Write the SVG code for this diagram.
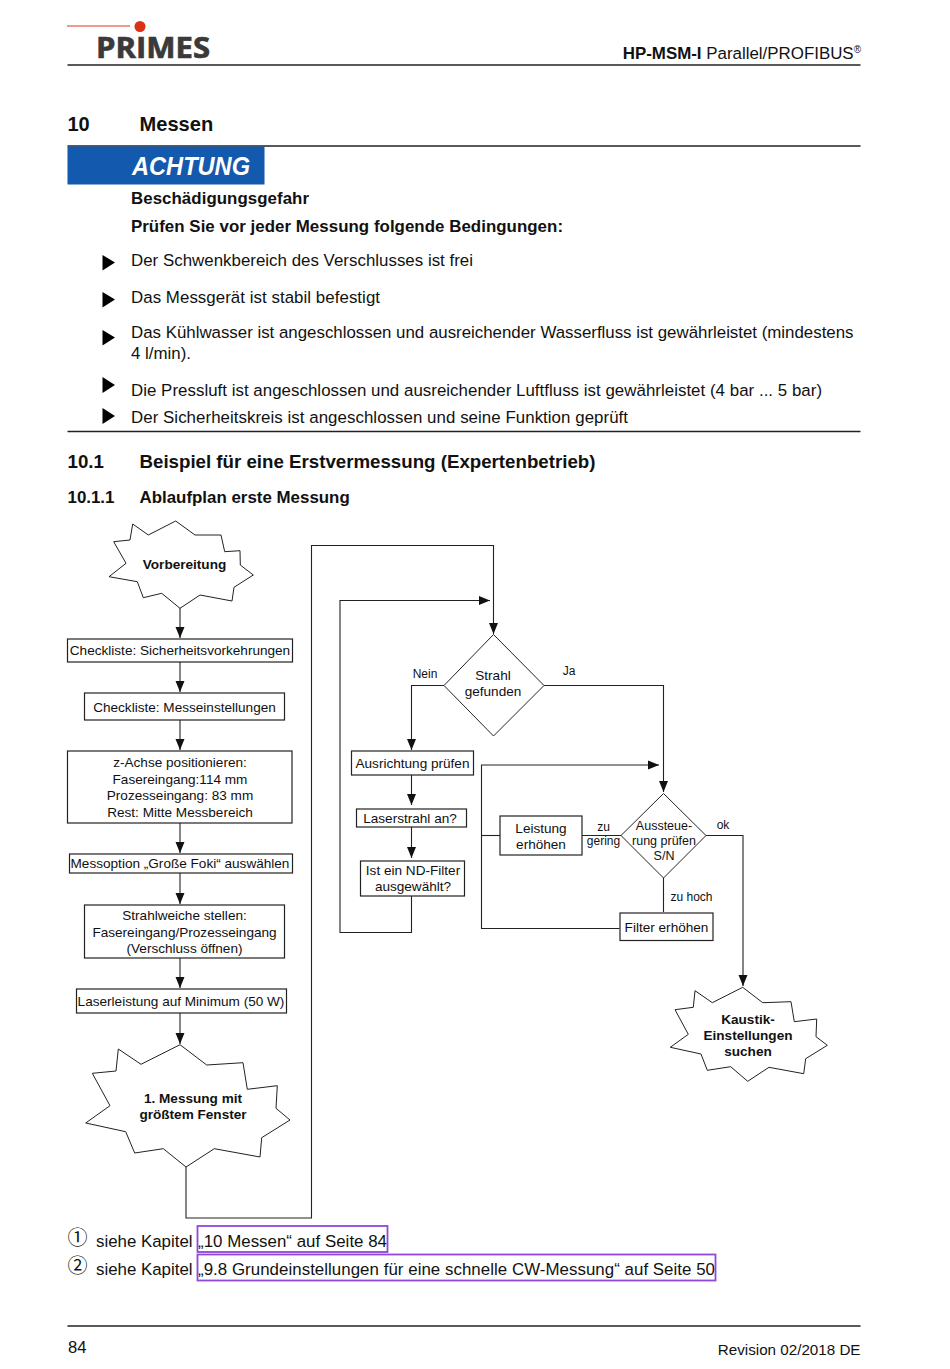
<svg xmlns="http://www.w3.org/2000/svg" width="950" height="1369" viewBox="0 0 950 1369">
<style>
text{font-family:"Liberation Sans",Arial,sans-serif;fill:#111}
.b{font-weight:bold}
.p{font-size:16.88px}
.n{font-size:13.58px;text-anchor:middle}
.a{font-size:12.5px;text-anchor:middle}
.s{font-size:12px;text-anchor:middle}
.box{fill:#fff;stroke:#222;stroke-width:1.2}
.star{fill:#fff;stroke:#222;stroke-width:1}
.c{fill:none;stroke:#222;stroke-width:1.1}
.rule{stroke:#222;stroke-width:1.3}
.link{fill:none;stroke:#9146dc;stroke-width:1.8}
</style>
<defs><marker id="a" markerUnits="userSpaceOnUse" markerWidth="12" markerHeight="12" refX="11" refY="5" orient="auto"><path d="M0 0.500L11 5L0 9.500z" fill="#111"/></marker></defs>
<rect width="950" height="1369" fill="#fff"/>
<g id="header">
<line x1="67" y1="26" x2="130" y2="26" stroke="#d9381e" stroke-width="1"/>
<circle cx="140" cy="26.500" r="5.500" fill="#dc3214"/>
<text x="96" y="57.500" font-size="28.500" class="b" style="font-family:'Open Sans','Liberation Sans',sans-serif;fill:#3a3a3a;stroke:#3a3a3a;stroke-width:.7" textLength="114" lengthAdjust="spacingAndGlyphs">PRIMES</text>
<text x="861" y="58.500" text-anchor="end" font-size="16.900"><tspan class="b">HP-MSM-I</tspan> Parallel/PROFIBUS<tspan font-size="10" dy="-6">®</tspan></text>
<line class="rule" x1="67.500" y1="65" x2="860.500" y2="65"/>
</g>
<g id="warning">
<text x="67.500" y="131" font-size="20" class="b">10</text>
<text x="139.500" y="131" font-size="20.100" class="b">Messen</text>
<line class="rule" x1="67.500" y1="146" x2="860.500" y2="146"/>
<rect x="67.500" y="146.500" width="197" height="38" fill="#1359ae"/>
<text x="132" y="175" font-size="25.800" class="b" font-style="italic" style="fill:#fff" textLength="118" lengthAdjust="spacingAndGlyphs">ACHTUNG</text>
<text x="131" y="204" class="p b" textLength="178">Beschädigungsgefahr</text>
<text x="131" y="232" class="p b" textLength="432">Prüfen Sie vor jeder Messung folgende Bedingungen:</text>
<text x="131" y="265.500" class="p" textLength="342">Der Schwenkbereich des Verschlusses ist frei</text>
<text x="131" y="302.500" class="p" textLength="249">Das Messgerät ist stabil befestigt</text>
<text x="131" y="338" class="p" textLength="722.500">Das Kühlwasser ist angeschlossen und ausreichender Wasserfluss ist gewährleistet (mindestens</text>
<text x="131" y="358.500" class="p">4 l/min).</text>
<text x="131" y="395.500" class="p" textLength="691">Die Pressluft ist angeschlossen und ausreichender Luftfluss ist gewährleistet (4 bar ... 5 bar)</text>
<text x="131" y="422.500" class="p" textLength="497">Der Sicherheitskreis ist angeschlossen und seine Funktion geprüft</text>
<path fill="#000" d="M102.500 255L115 262.500L102.500 270.500zM102.500 292L115 299.500L102.500 307.500zM102.500 330L115 337.500L102.500 345.500zM102.500 377L115 385L102.500 393zM102.500 408L115 416L102.500 424z"/>
<line class="rule" x1="67.500" y1="431.500" x2="860.500" y2="431.500"/>
<text x="67.500" y="468" font-size="18.700" class="b">10.1</text>
<text x="139.500" y="468" font-size="18.700" class="b">Beispiel für eine Erstvermessung (Expertenbetrieb)</text>
<text x="67.500" y="503" font-size="16.900" class="b">10.1.1</text>
<text x="139.500" y="503" font-size="16.900" class="b">Ablaufplan erste Messung</text>
</g>
<g id="connectors">
<path class="c" marker-end="url(#a)" d="M180 608V638"/>
<path class="c" marker-end="url(#a)" d="M180 662V692"/>
<path class="c" marker-end="url(#a)" d="M180 720V750"/>
<path class="c" marker-end="url(#a)" d="M180 823V853"/>
<path class="c" marker-end="url(#a)" d="M180 873V904"/>
<path class="c" marker-end="url(#a)" d="M180 958V988"/>
<path class="c" marker-end="url(#a)" d="M180 1013V1044"/>
<path class="c" marker-end="url(#a)" d="M186 1167V1218H311.500V545.500H493.500V634"/>
<path class="c" marker-end="url(#a)" d="M411.500 896V932.500H340V600.500H490"/>
<path class="c" marker-end="url(#a)" d="M444 685.500H411.500V750"/>
<path class="c" marker-end="url(#a)" d="M411.500 775V805"/>
<path class="c" marker-end="url(#a)" d="M411.500 827V858"/>
<path class="c" marker-end="url(#a)" d="M544 685.500H663.500V792"/>
<path class="c" marker-end="url(#a)" d="M619.500 928.500H481.500V765H659"/>
<path class="c" d="M481.500 835.500H500"/>
<path class="c" d="M582 835.500H621"/>
<path class="c" d="M663.500 878V912"/>
<path class="c" marker-end="url(#a)" d="M706 835.500H743V986"/>
</g>
<g id="n-vorbereitung"><polygon class="star" points="175.700,521 195,535 221,535 224.700,551.700 240,550.700 240.300,565 253.300,575 234,587.300 232,601 200,595 180,608.300 161.700,593.300 143.300,597.700 137.300,581.700 109,576.700 126,563.300 113.700,541.700 130,540 132.700,524 148.300,535"/><text x="184.500" y="568.500" class="n b">Vorbereitung</text></g>
<g id="n-check1"><rect class="box" x="67.500" y="639" width="225" height="23"/><text x="180" y="655" class="n">Checkliste: Sicherheitsvorkehrungen</text></g>
<g id="n-check2"><rect class="box" x="84.500" y="693" width="200" height="27"/><text x="184.500" y="711.500" class="n">Checkliste: Messeinstellungen</text></g>
<g id="n-z"><rect class="box" x="67.500" y="751" width="224.500" height="72"/><text x="180" y="767" class="n">z-Achse positionieren:</text><text x="180" y="783.500" class="n">Fasereingang:114 mm</text><text x="180" y="800" class="n">Prozesseingang: 83 mm</text><text x="180" y="816.500" class="n">Rest: Mitte Messbereich</text></g>
<g id="n-option"><rect class="box" x="69.500" y="854" width="223" height="19"/><text x="180" y="868" class="n">Messoption „Große Foki“ auswählen</text></g>
<g id="n-strahl"><rect class="box" x="84.500" y="905" width="200" height="53"/><text x="184.500" y="920" class="n">Strahlweiche stellen:</text><text x="184.500" y="936.500" class="n">Fasereingang/Prozesseingang</text><text x="184.500" y="953" class="n">(Verschluss öffnen)</text></g>
<g id="n-laser"><rect class="box" x="76.500" y="989" width="210" height="24"/><text x="181" y="1006" class="n">Laserleistung auf Minimum (50 W)</text></g>
<g id="n-messung"><polygon class="star" points="180,1044.700 206.700,1065 243,1062.700 247.300,1089.300 277.300,1085.700 276,1108.300 290,1120 261.700,1137.700 260,1157 214.300,1148.700 186,1167 163.300,1148.700 134.700,1153 125.700,1131.700 85.700,1123 110,1105.700 92.300,1073.300 116,1071 118.300,1049 141,1064.300"/><text x="193" y="1103" class="n b">1. Messung mit</text><text x="193" y="1119" class="n b">größtem Fenster</text></g>
<g id="n-gefunden"><polygon class="star" points="493.500,634.500 544,685.500 493.500,736 444,685.500"/><text x="493" y="680" class="n">Strahl</text><text x="493" y="696" class="n">gefunden</text></g>
<g id="n-ausrichtung"><rect class="box" x="351.500" y="751" width="122" height="24"/><text x="412.500" y="768" class="n">Ausrichtung prüfen</text></g>
<g id="n-laseran"><rect class="box" x="356.500" y="809" width="110" height="18"/><text x="410" y="823" class="n">Laserstrahl an?</text></g>
<g id="n-nd"><rect class="box" x="360.500" y="861" width="104" height="35"/><text x="413" y="874.500" class="n">Ist ein ND-Filter</text><text x="413" y="890.500" class="n">ausgewählt?</text></g>
<g id="n-leistung"><rect class="box" x="500" y="816" width="82" height="39"/><text x="541" y="832.500" class="n">Leistung</text><text x="541" y="849" class="n">erhöhen</text></g>
<g id="n-aussteuerung"><polygon class="star" points="663.500,793.500 706,835.500 663.500,878 621,835.500"/><text x="664" y="829.500" class="a">Aussteue-</text><text x="664" y="845" class="a">rung prüfen</text><text x="664" y="860" class="a">S/N</text></g>
<g id="n-filter"><rect class="box" x="620" y="913" width="93" height="27.500"/><text x="666.500" y="932" class="n">Filter erhöhen</text></g>
<g id="n-kaustik"><polygon class="star" points="742.700,987.300 762.700,1002.700 791,1001.700 794.300,1021.700 816.700,1019 816,1036.700 827.300,1045.300 805.700,1058.700 803.700,1073.700 769,1067.300 747.700,1081.300 730.700,1066.700 707.300,1070.300 701,1054 670.300,1047.300 688.300,1034.300 675,1009.700 693.300,1007.300 695,990.700 712.300,1002.700"/><text x="748" y="1024" class="n b">Kaustik-</text><text x="748" y="1040" class="n b">Einstellungen</text><text x="748" y="1056" class="n b">suchen</text></g>
<g id="labels">
<text x="425" y="678" class="s">Nein</text>
<text x="569" y="675" class="s">Ja</text>
<text x="603.500" y="831" class="s">zu</text>
<text x="603.500" y="845" class="s">gering</text>
<text x="723" y="829" class="s">ok</text>
<text x="691.500" y="901" class="s">zu hoch</text>
</g>
<g id="footer">
<text x="67.500" y="1245" font-size="20" style="font-family:'Noto Sans CJK JP','DejaVu Sans',sans-serif">①</text>
<text x="67.500" y="1273" font-size="20" style="font-family:'Noto Sans CJK JP','DejaVu Sans',sans-serif">②</text>
<text x="96" y="1247" class="p">siehe Kapitel</text>
<text x="198" y="1247" class="p" textLength="189">„10 Messen“ auf Seite 84</text>
<text x="96" y="1275" class="p">siehe Kapitel</text>
<text x="198" y="1275" class="p" textLength="517">„9.8 Grundeinstellungen für eine schnelle CW-Messung“ auf Seite 50</text>
<rect class="link" x="197.500" y="1226" width="190" height="26"/>
<rect class="link" x="197.500" y="1254.500" width="518" height="26"/>
<line class="rule" x1="67.500" y1="1326" x2="860.500" y2="1326"/>
<text x="68" y="1353" font-size="16.600">84</text>
<text x="860.500" y="1355" font-size="15.200" text-anchor="end">Revision 02/2018 DE</text>
</g>
</svg>
